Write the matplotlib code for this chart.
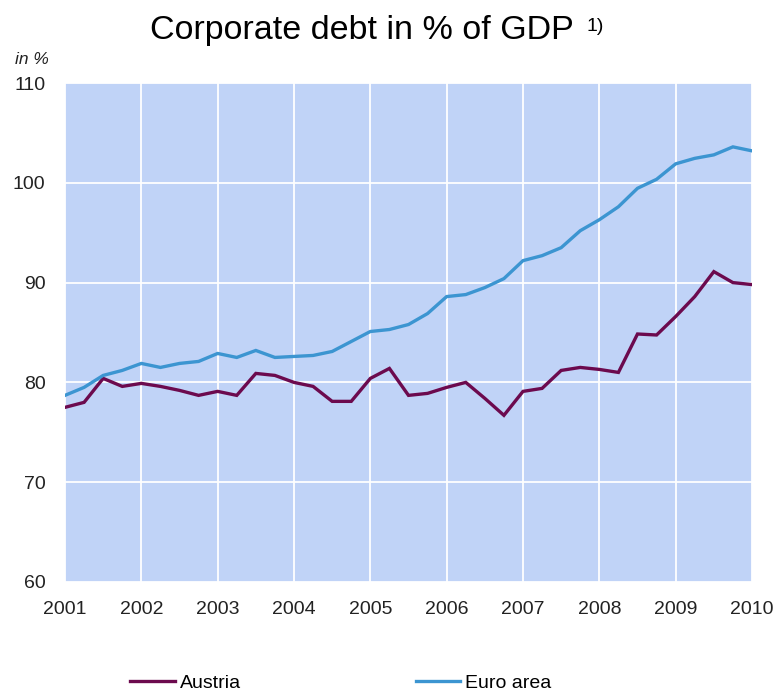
import numpy as np
import matplotlib
matplotlib.use("Agg")
import matplotlib.pyplot as plt

plt.rcParams["font.family"] = ["Liberation Sans", "DejaVu Sans"]

# quarterly observations, 2001 Q1 .. 2010 Q1
start_year = 2001
austria = [
    77.5, 78.0, 80.4, 79.6, 79.9, 79.6, 79.2, 78.7, 79.1, 78.7,
    80.9, 80.7, 80.0, 79.6, 78.1, 78.1, 80.4, 81.4, 78.7, 78.9,
    79.5, 80.0, 78.4, 76.7, 79.1, 79.4, 81.2, 81.5, 81.3, 81.0,
    84.85, 84.75, 86.6, 88.6, 91.1, 90.0, 89.8,
]
euro_area = [
    78.7, 79.5, 80.7, 81.2, 81.9, 81.5, 81.9, 82.1, 82.9, 82.5,
    83.2, 82.5, 82.6, 82.7, 83.1, 84.1, 85.1, 85.3, 85.8, 86.9,
    88.6, 88.8, 89.5, 90.4, 92.2, 92.7, 93.5, 95.2, 96.3, 97.6,
    99.45, 100.35, 101.9, 102.45, 102.8, 103.6, 103.2,
]
year_ticks = list(range(2001, 2011))
value_ticks = [60, 70, 80, 90, 100, 110]
series_names = ["Austria", "Euro area"]
series_colors = ["#6C0A4E", "#3C95D1"]

quarters = start_year + np.arange(len(austria)) / 4.0

W, H = 778, 696
fig = plt.figure(figsize=(W / 100, H / 100), dpi=100)
ax = fig.add_axes([65 / W, 1 - 582 / H, (752 - 65) / W, (582 - 83) / H])
ax.set_facecolor("#C0D3F7")

for values, name, color in zip([austria, euro_area], series_names, series_colors):
    ax.plot(quarters, values, color=color, lw=2.4, label=name,
            solid_joinstyle="miter", zorder=3)

ax.set_xlim(year_ticks[0], year_ticks[-1])
ax.set_ylim(value_ticks[0], value_ticks[-1])
ax.set_xticks(year_ticks)
ax.set_yticks(value_ticks)
ax.grid(True, color="white", lw=1.3)
ax.set_axisbelow(True)
for side in ax.spines.values():
    side.set_visible(False)
ax.tick_params(length=0, labelsize=14, labelcolor="#222222")
ax.tick_params(axis="x", pad=14)
ax.tick_params(axis="y", pad=14)

fig.text(150 / W, 1 - 39 / H, "Corporate debt in % of GDP",
         fontsize=24.5, ha="left", va="baseline")
fig.text(586 / W, 1 - 31 / H, "1)", fontsize=14, ha="left", va="baseline")
fig.text(15 / W, 1 - 60 / H, "in %", fontsize=12.5, style="italic",
         ha="left", va="center", color="#222222")

fig.legend(loc="center left", bbox_to_anchor=(130 / W, 1 - 683 / H),
           ncol=2, frameon=False, fontsize=14, handlelength=2.3,
           handletextpad=0.25, columnspacing=9.0, borderpad=0,
           borderaxespad=0)

fig.savefig("out.png", dpi=100)
